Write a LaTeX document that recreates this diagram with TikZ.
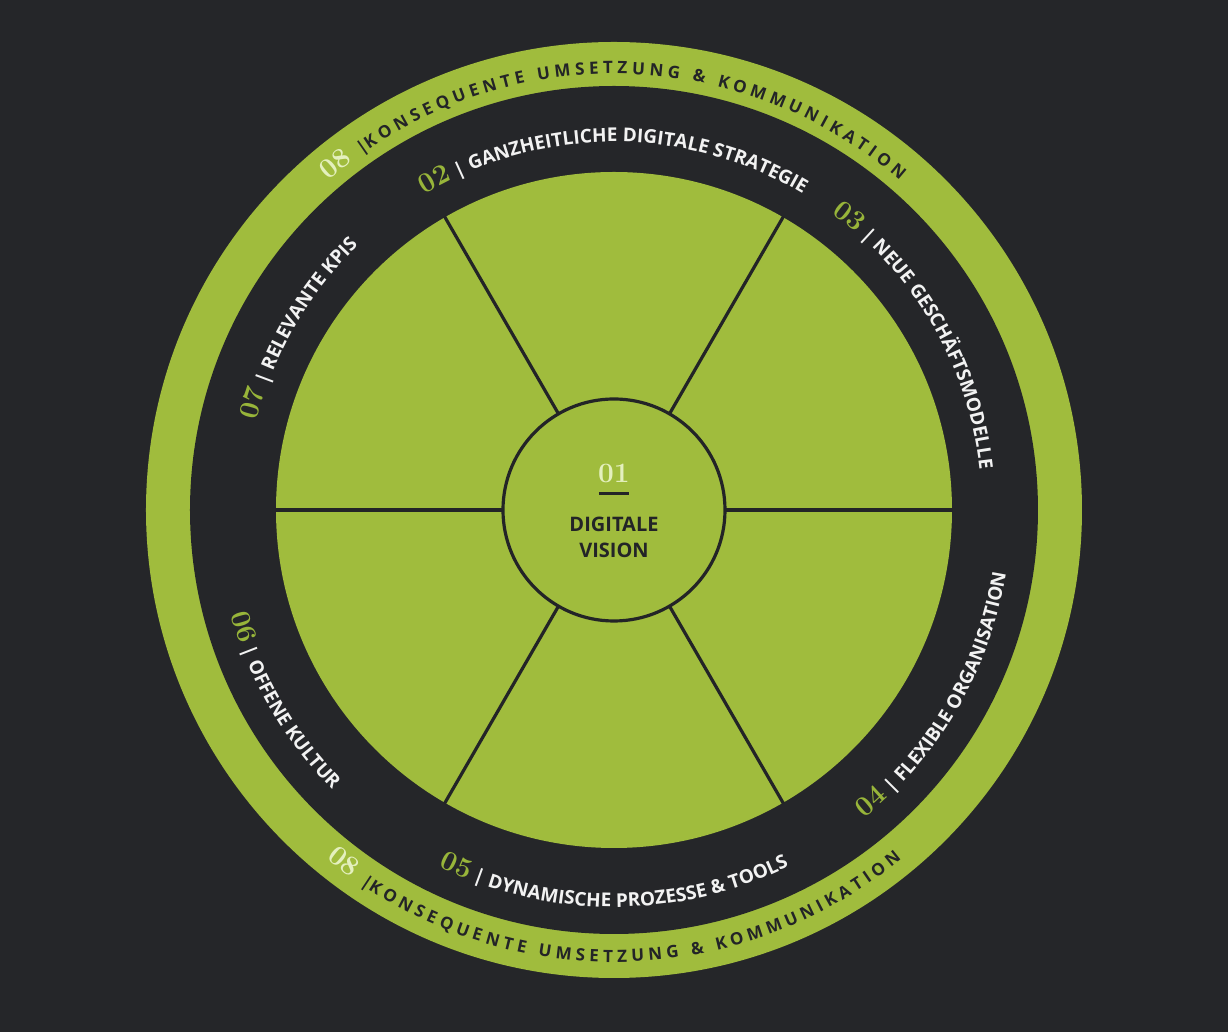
\documentclass[tikz,border=0pt]{standalone}
\usepackage{fontspec}
\usetikzlibrary{decorations.text}
\newfontfamily\labfont{Open Sans}
\newfontfamily\numfont{Latin Modern Roman}
\definecolor{bg}{HTML}{252629}
\definecolor{lime}{HTML}{A0BC3D}
\definecolor{numgreen}{HTML}{98B53A}
\definecolor{pale}{HTML}{E4F0BE}
\definecolor{ink}{HTML}{232427}
\definecolor{labwhite}{HTML}{F2F2F2}
\newcommand\numfmt{\color{numgreen}\numfont\bfseries\fontsize{14}{14}\selectfont}
\newcommand\palefmt{\color{pale}\numfont\bfseries\fontsize{14}{14}\selectfont}
\newcommand\labfmt{\color{labwhite}\labfont\bfseries\fontsize{9.5}{9.5}\selectfont}
\newcommand\ringfmt{\color{ink}\labfont\bfseries\fontsize{8.5}{8.5}\selectfont}
% clockwise label (letters pointing outward)
\newcommand\cwlabel[3]{%
  \pgfmathsetmacro\sa{#1+75}\pgfmathsetmacro\ea{#1-75}%
  \path[decorate,decoration={text along path,text align=center,
    text format delimiters={[}{]},text={#3}}]
    (\sa:#2) arc[start angle=\sa,end angle=\ea,radius=#2];}
% counter-clockwise label (letters pointing inward)
\newcommand\ccwlabel[3]{%
  \pgfmathsetmacro\sa{#1-75}\pgfmathsetmacro\ea{#1+75}%
  \path[decorate,decoration={text along path,text align=center,
    text format delimiters={[}{]},text={#3}}]
    (\sa:#2) arc[start angle=\sa,end angle=\ea,radius=#2];}
\tikzset{
  sector/.style={draw=ink,line width=1.6pt},
  centertext/.style={text=ink,font=\labfont\bfseries\fontsize{10}{13}\selectfont,align=center,inner sep=0pt}
}
\begin{document}
\begin{tikzpicture}[x=0.5pt,y=0.5pt]
\fill[bg] (-614,-522) rectangle (614,510);
\useasboundingbox (-614,-522) rectangle (614,510);
% rings
\fill[lime] (0,0) circle[radius=468];
\fill[bg] (0,0) circle[radius=424];
\fill[lime] (0,0) circle[radius=338];
% sector lines
\foreach \a in {0,60,...,300} \draw[sector] (\a:111) -- (\a:339);
\draw[sector,fill=lime] (0,0) circle[radius=111];
% centre
\node[text=pale,font=\numfont\bfseries\fontsize{14}{14}\selectfont,inner sep=0pt] (n01) at (0,37) {01};
\coordinate (dl) at (-15,16);
\coordinate (dr) at (15,16);
\draw[ink,line width=1.5pt] (dl) -- (dr);
\node[centertext] (vision) at (0,-27) {DIGITALE\\VISION};
% outer ring
\cwlabel{90}{436}{[\palefmt]08 [\ringfmt]|K O N S E Q U E N T E {\kern2pt} U M S E T Z U N G {\kern2pt} {\&} {\kern2pt} K O M M U N I K A T I O N}
\ccwlabel{270}{452}{[\palefmt]08 [\ringfmt]|K O N S E Q U E N T E {\kern2pt} U M S E T Z U N G {\kern2pt} {\&} {\kern2pt} K O M M U N I K A T I O N}
% inner labels
\cwlabel{90}{368}{[\numfmt]02[\labfmt]{\kern2.5pt}|{\kern2.5pt}GANZHEITLICHE DIGITALE STRATEGIE}
\cwlabel{30}{368}{[\numfmt]03[\labfmt]{\kern2.5pt}|{\kern2.5pt}NEUE GESCHÄFTSMODELLE}
\cwlabel{150}{368}{[\numfmt]07[\labfmt]{\kern2.5pt}|{\kern2.5pt}RELEVANTE KPIS}
\ccwlabel{-30}{397}{[\numfmt]04[\labfmt]{\kern2.5pt}|{\kern2.5pt}FLEXIBLE ORGANISATION}
\ccwlabel{270}{397}{[\numfmt]05[\labfmt]{\kern2.5pt}|{\kern2.5pt}DYNAMISCHE PROZESSE {\&} TOOLS}
\ccwlabel{210}{397}{[\numfmt]06[\labfmt]{\kern2.5pt}|{\kern2.5pt}OFFENE KULTUR}
\end{tikzpicture}
\end{document}
